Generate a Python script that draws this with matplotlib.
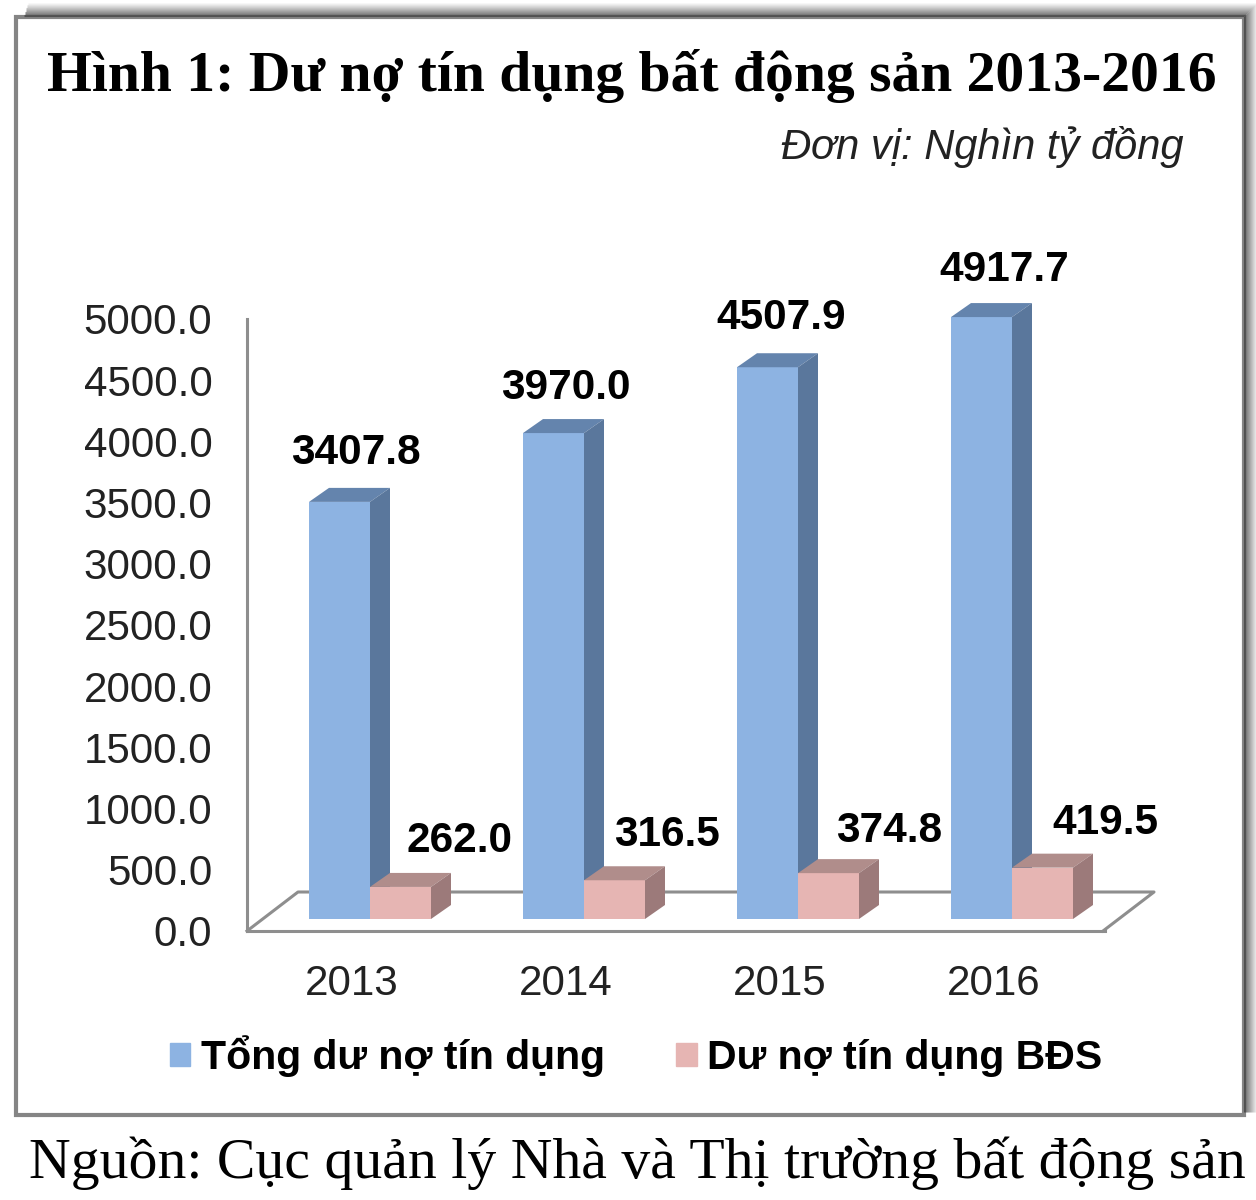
import numpy as np
import matplotlib
matplotlib.use('Agg')
import matplotlib.pyplot as plt
from matplotlib.patches import Patch, Rectangle

# du lieu doc tu hinh
years = ['2013', '2014', '2015', '2016']
tong_du_no = [3407.8, 3970.0, 4507.9, 4917.7]
du_no_bds = [262.0, 316.5, 374.8, 419.5]
y_ticks = [0, 500, 1000, 1500, 2000, 2500, 3000, 3500, 4000, 4500, 5000]

title = 'Hình 1: Dư nợ tín dụng bất động sản 2013-2016'
unit = 'Đơn vị: Nghìn tỷ đồng'
source = 'Nguồn: Cục quản lý Nhà và Thị trường bất động sản'
legend_labels = ['Tổng dư nợ tín dụng', 'Dư nợ tín dụng BĐS']

SANS = 'Liberation Sans'
SERIF = 'Liberation Serif'
GRAY = '#8e8e8e'
BLUE, BLUE_TOP, BLUE_SIDE = '#8db3e2', '#6484ad', '#5a779c'
PINK, PINK_TOP, PINK_SIDE = '#e6b5b3', '#b08d8b', '#9c7a7a'

W, H = 1256, 1200
fig = plt.figure(figsize=(W / 100, H / 100), dpi=100, facecolor='white')

# nen: khung va bong, toa do pixel
bg = fig.add_axes([0, 0, 1, 1])
bg.set_xlim(0, W)
bg.set_ylim(H, 0)
bg.axis('off')
for i in range(14):
    a = 0.8 * (1 - i / 14) ** 1.2
    bg.plot([24 + i * 0.3, 1244 + i], [16 - i, 16 - i], color='#444444', alpha=a, lw=0.8, solid_capstyle='butt')
    bg.plot([1244 + i, 1244 + i], [16 - i, 1112], color='#444444', alpha=a, lw=0.8, solid_capstyle='butt')
bg.add_patch(Rectangle((16, 17), 1228, 1098, facecolor='white', edgecolor='#858585', lw=3))

bg.text(632, 76, title, family=SERIF, weight='bold', fontsize=41.5, ha='center', va='center')
bg.text(982, 147, unit, family=SANS, style='italic', fontsize=30, ha='center', va='center', color='#222222')
bg.text(637.5, 1163, source, family=SERIF, fontsize=41.6, ha='center', va='center')

# truc chinh: 0 o y=931, 5000 o y=319, moi nhom rong 214 px
ax = fig.add_axes([247 / W, 1 - 931 / H, (1105 - 247) / W, (931 - 319) / H])
ax.patch.set_alpha(0)
step = 214.0
ax.set_xlim((247 - 352) / step, (1105 - 352) / step)
ax.set_ylim(0, 5000)
px_x = 1 / step
px_y = 5000 / 612

x = np.arange(len(years))
w = 61 * px_x
gap = 18 * px_x
base = 12 * px_y
dx, dy = 20 * px_x, 14 * px_y


def draw_box(x0, val, front, top, side, z):
    ax.bar(x0, val, w, bottom=base, align='edge', color=front, zorder=z, clip_on=False)
    y1 = base + val
    ax.fill([x0, x0 + w, x0 + w + dx, x0 + dx], [y1, y1, y1 + dy, y1 + dy], color=top, lw=0, zorder=z, clip_on=False)
    ax.fill([x0 + w, x0 + w + dx, x0 + w + dx, x0 + w], [base, base + dy, y1 + dy, y1], color=side, lw=0, zorder=z, clip_on=False)


# san 3D phia sau
x_l, x_r = ax.get_xlim()
fx, fy = 51 * px_x, 39 * px_y
ax.plot([x_l, x_l + fx, x_r + fx - 2 * px_x, x_r - 2 * px_x], [0, fy, fy, 0], color=GRAY, lw=2.2, clip_on=False, zorder=1)

for i in x:
    draw_box(i + gap - w, tong_du_no[i], BLUE, BLUE_TOP, BLUE_SIDE, 2)
for i in x:
    draw_box(i + gap, du_no_bds[i], PINK, PINK_TOP, PINK_SIDE, 3)

# nhan so lieu, do lech tinh bang pixel
blue_off = [(16.5, 49), (12, 45), (14, 49), (23, 47)]
pink_off = [(58.5, 46), (52.5, 45), (61, 42), (63, 45)]
for i in x:
    ax.annotate(f'{tong_du_no[i]:.1f}', (i + gap - w / 2, base + tong_du_no[i]), xytext=blue_off[i],
                textcoords=('offset pixels'), family=SANS, weight='bold', fontsize=30.5, ha='center', va='center', zorder=5, annotation_clip=False)
    ax.annotate(f'{du_no_bds[i]:.1f}', (i + gap + w / 2, base + du_no_bds[i]), xytext=pink_off[i],
                textcoords=('offset pixels'), family=SANS, weight='bold', fontsize=30.5, ha='center', va='center', zorder=5, annotation_clip=False)

ax.set_xticks(x)
ax.set_xticklabels(years, family=SANS, fontsize=30.3, color='#222222')
ax.set_yticks(y_ticks)
ax.set_yticklabels([f'{v:.1f}' for v in y_ticks], family=SANS, fontsize=30.3, color='#222222')
ax.tick_params(axis='x', length=0, pad=24)
ax.tick_params(axis='y', length=0, pad=25)
for s in ['top', 'right']:
    ax.spines[s].set_visible(False)
for s in ['left', 'bottom']:
    ax.spines[s].set_color(GRAY)
    ax.spines[s].set_linewidth(2.2)

handles = [Patch(color=BLUE), Patch(color=PINK)]
ax.legend(handles, legend_labels, loc='center', bbox_to_anchor=(636 / W, 1 - 1056 / H), bbox_transform=fig.transFigure,
          ncol=2, frameon=False, prop={'family': SANS, 'weight': 'bold', 'size': 29.5},
          handlelength=0.5, handleheight=0.5, handletextpad=0.25, columnspacing=1.75, borderpad=0, borderaxespad=0)

fig.savefig('out.png', dpi=100)
